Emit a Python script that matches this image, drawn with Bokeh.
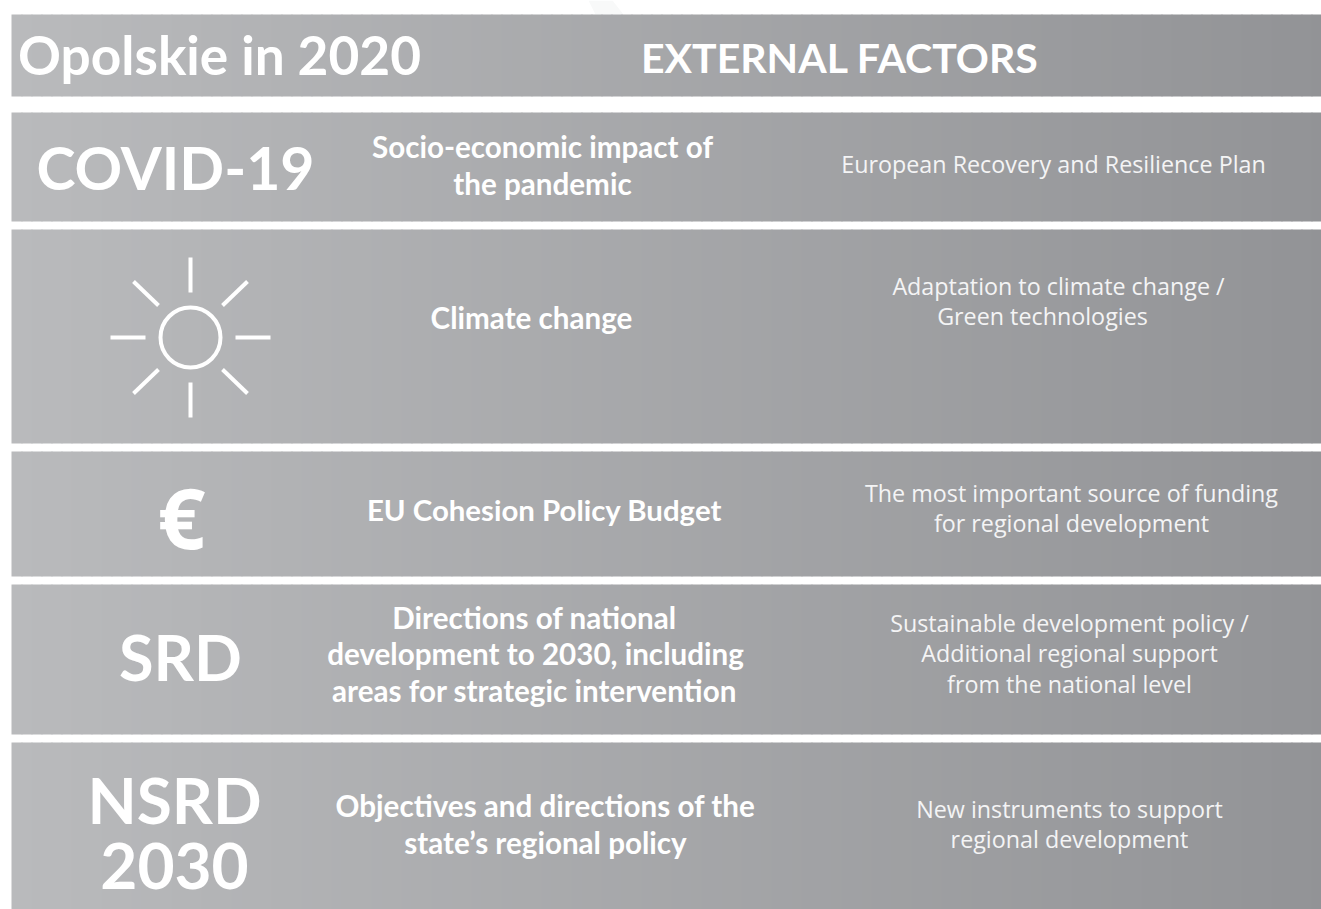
from bokeh.plotting import figure
from bokeh.models import Range1d, ColumnDataSource
from bokeh.core.properties import value
from bokeh.embed import file_html
from bokeh.resources import INLINE

PAGE_W, PAGE_H = 1321, 909

band_tops = [14, 112, 229, 451, 584, 742]
band_bottoms = [96, 221, 443, 576, 734, 909]
band_left, band_right = 11, 1321
grad_left = (185, 186, 188)
grad_right = (146, 147, 150)
grad_step = 10

bold_texts = ["Opolskie in 2020", "EXTERNAL FACTORS", "COVID-19",
              "Socio-economic impact of", "the pandemic", "Climate change",
              "EU Cohesion Policy Budget", "SRD", "Directions of national",
              "development to 2030, including", "areas for strategic intervention",
              "NSRD", "2030", "Objectives and directions of the",
              "state\u2019s regional policy"]
bold_x = [219, 839.5, 175, 542, 542, 531, 544, 180, 534, 535, 534, 174, 174, 545, 545]
bold_base = [71, 71, 186, 156, 193, 327, 519, 677, 627, 663, 700, 820, 887, 815, 852]
bold_size = [53.2, 41, 59, 29.6, 29.6, 29.6, 29.4, 63, 29.6, 29.6, 29.6, 64, 64, 29.6, 29.6]

euro_text = ["\u20ac"]
euro_x = [181]
euro_base = [544]
euro_size = 84

regular_texts = ["European Recovery and Resilience Plan", "Adaptation to climate change /",
                 "Green technologies", "The most important source of funding",
                 "for regional development", "Sustainable development policy /",
                 "Additional regional support", "from the national level",
                 "New instruments to support", "regional development"]
regular_x = [1053, 1058, 1042, 1071, 1071, 1069, 1069, 1069, 1069, 1069]
regular_base = [171, 293, 323, 500, 530, 630, 660, 691, 816, 846]
regular_size = 23.3

sun_center = (190, 337)
sun_radius = 30
ray_x0 = [190, 190, 110, 235, 133, 247, 133, 247]
ray_y0 = [257, 382, 337, 337, 281, 281, 393, 393]
ray_x1 = [190, 190, 145, 270, 158, 222, 158, 222]
ray_y1 = [292, 417, 337, 337, 305, 305, 369, 369]

wedge_x = [588, 612, 623, 595]
wedge_y = [0, 0, 14, 14]

p = figure(width=PAGE_W, height=PAGE_H,
           x_range=Range1d(0, PAGE_W), y_range=Range1d(PAGE_H, 0),
           output_backend="svg", toolbar_location=None,
           min_border=0, outline_line_color=None, background_fill_color="white")
p.axis.visible = False
p.grid.visible = False

p.patch(wedge_x, wedge_y, fill_color="#f8f9f9", line_color=None)

xs = list(range(band_left, band_right, grad_step))
left, right, top, bottom, colors = [], [], [], [], []
for t, b in zip(band_tops, band_bottoms):
    for x in xs:
        f = (x - band_left) / (band_right - band_left)
        c = tuple(round(a + (d - a) * f) for a, d in zip(grad_left, grad_right))
        left.append(x)
        right.append(min(x + grad_step + 1, band_right))
        top.append(t)
        bottom.append(b)
        colors.append("#%02x%02x%02x" % c)
p.quad(left=left, right=right, top=top, bottom=bottom, fill_color=colors, line_color=None)

p.segment(ray_x0, ray_y0, ray_x1, ray_y1, line_color="white", line_width=4)
p.circle([sun_center[0]], [sun_center[1]], radius=sun_radius, fill_color=None,
         line_color="white", line_width=4)

src = ColumnDataSource(dict(
    text=bold_texts, x=bold_x,
    y=[b - 0.33 * s for b, s in zip(bold_base, bold_size)],
    size=[f"{s}px" for s in bold_size]))
p.text(x="x", y="y", text="text", source=src, text_font=value("Lato"),
       text_font_style="bold", text_font_size="size", text_color="white",
       text_align="center", text_baseline="middle")

src3 = ColumnDataSource(dict(
    text=euro_text, x=euro_x, y=[b - 0.33 * euro_size for b in euro_base]))
p.text(x="x", y="y", text="text", source=src3, text_font=value("Open Sans"),
       text_font_style="bold", text_font_size=f"{euro_size}px", text_color="white",
       text_align="center", text_baseline="middle")

src2 = ColumnDataSource(dict(
    text=regular_texts, x=regular_x,
    y=[b - 0.33 * regular_size for b in regular_base]))
p.text(x="x", y="y", text="text", source=src2, text_font=value("Open Sans"),
       text_font_size=f"{regular_size}px", text_color="#f4f4f5",
       text_align="center", text_baseline="middle")

open("out.html", "w").write(file_html(p, INLINE))
